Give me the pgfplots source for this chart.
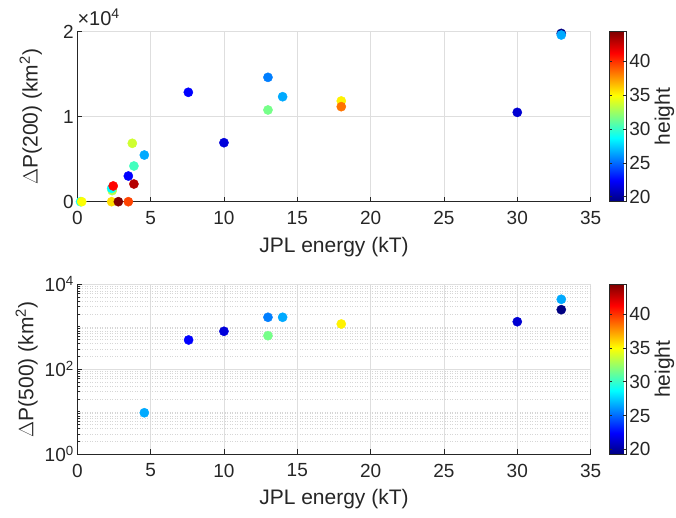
\documentclass[border=0pt]{standalone}
\usepackage{fontspec}
\setmainfont{Liberation Sans}
\usepackage{pgfplots}
\pgfplotsset{compat=1.18}
\pgfkeys{/pgf/number format/assume math mode=true}
\definecolor{mgray}{gray}{0.15}
\definecolor{gridgray}{gray}{0.87}
\definecolor{mingray}{gray}{0.84}
\pgfplotsset{
  common/.style={
    anchor=south west, width=513.3pt, height=170pt, scale only axis,
    xmin=0, xmax=35, xtick={0,5,...,35},
    axis lines*=left, tick align=inside, clip=false,
    axis line style={mgray, line width=0.7pt},
    every tick/.style={mgray, line width=0.6pt},
    major tick length=5pt, minor tick length=2.5pt,
    xmajorgrids, ymajorgrids,
    major grid style={gridgray, line width=0.6pt},
    tick label style={font=\fontsize{19}{19}\selectfont, text=mgray},
    label style={font=\fontsize{21}{21}\selectfont, text=mgray},
    xticklabel style={yshift=-6pt},
    xlabel={JPL energy (kT)},
    xlabel style={at={([yshift=-50.7pt]axis description cs:0.5,0)}, anchor=base},
    colormap/jet, point meta min=19.26, point meta max=44.4,
    colorbar,
    colorbar style={
      at={(parent axis.north east)}, anchor=north west, xshift=10pt,
      width=16.7pt, height=170pt, scale only axis,
      ytick={20,25,30,35,40},
      axis line style={mgray, line width=0.6pt},
      every tick/.style={mgray, line width=0.5pt},
      major tick length=3pt,
      tick label style={font=\fontsize{19}{19}\selectfont, text=mgray},
      ylabel={height},
      ylabel style={font=\fontsize{21}{21}\selectfont, text=mgray,
        at={([xshift=44pt]axis description cs:1,0.5)}, anchor=base},
    },
  },
  pts/.style={scatter, only marks, mark=*, mark size=4.6pt,
    scatter/use mapped color={draw=mapped color, fill=mapped color},
    point meta=explicit},
}
\pgfplotstableread{
x y h
0.22 0 29.0
0.3 0 34.9
2.34 0 35.8
2.8 0 44.4
3.48 0 39.6
2.38 1300 33.1
2.34 1570 28.7
2.45 1850 41.2
3.48 3020 22.4
3.86 2080 43.1
3.86 4200 30.3
3.75 6870 33.8
4.57 5490 26.6
7.57 12870 22.4
10 6940 21.5
13 14630 25.5
14 12350 26.6
13 10790 31.6
18 11850 35.3
18 11180 38.4
30 10510 21.3
33 19800 19.3
33 19610 26.6
}\toptable
\pgfplotstableread{
x y h
4.57 9.5 26.6
7.59 490 22.4
10 784 21.5
13 1675 25.5
14 1675 26.6
13 618 31.6
18 1164 35.3
30 1318 21.3
33 4436 26.6
33 2530 19.3
}\bottable
\begin{document}
\begin{tikzpicture}
\path[use as bounding box] (0pt,0pt) rectangle (676pt,518pt);
\begin{axis}[common,
  at={(77.3pt,316.3pt)},
  ymin=0, ymax=20000, ytick={0,10000,20000}, yticklabels={0,1,2},
  scaled y ticks=false,
  ylabel={$\Delta$P(200) (km\textsuperscript{2})},
  ylabel style={at={([xshift=-39.8pt]axis description cs:0,0.5)}, anchor=base},
]
\addplot[pts] table[x=x, y=y, meta=h] {\toptable};
\node[anchor=base west, inner sep=0pt, text=mgray, font=\fontsize{20}{20}\selectfont]
  at ([yshift=5.7pt]axis description cs:0,1) {×10\textsuperscript{4}};
\end{axis}
\begin{axis}[common,
  at={(77.3pt,63.7pt)},
  ymode=log, ymin=1, ymax=10000, ytick={1,100,10000},
  yticklabels={10\textsuperscript{0},10\textsuperscript{2},10\textsuperscript{4}},
  minor ytick={2,3,4,5,6,7,8,9,10,20,30,40,50,60,70,80,90,200,300,400,500,600,700,800,900,1000,2000,3000,4000,5000,6000,7000,8000,9000},
  yminorgrids,
  minor grid style={mingray, line width=0.5pt, dash pattern=on 1pt off 1.5pt},
  ylabel={$\Delta$P(500) (km\textsuperscript{2})},
  ylabel style={at={([xshift=-43.8pt]axis description cs:0,0.5)}, anchor=base},
]
\addplot[pts] table[x=x, y=y, meta=h] {\bottable};
\end{axis}
\end{tikzpicture}
\end{document}
